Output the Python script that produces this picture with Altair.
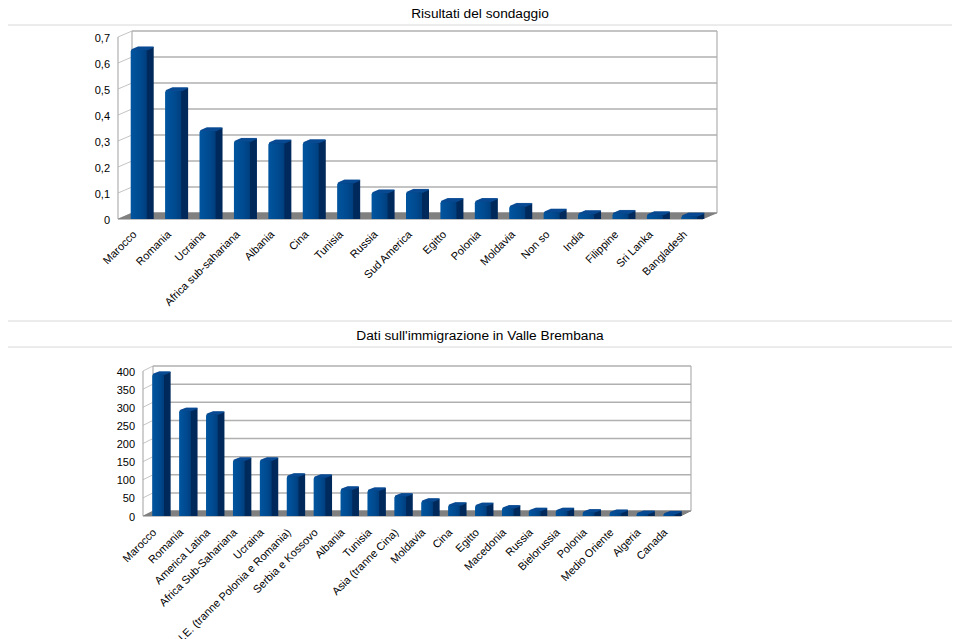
import altair as alt
import pandas as pd

# ---------- data ----------
survey_labels = ["Marocco", "Romania", "Ucraina", "Africa sub-sahariana", "Albania", "Cina", "Tunisia",
                 "Russia", "Sud America", "Egitto", "Polonia", "Moldavia", "Non so", "India",
                 "Filippine", "Sri Lanka", "Bangladesh"]
survey_values = [0.645, 0.488, 0.334, 0.293, 0.287, 0.288, 0.133, 0.095, 0.097, 0.062, 0.062,
                 0.043, 0.021, 0.015, 0.016, 0.011, 0.006]
survey_ticks = [0, 0.1, 0.2, 0.3, 0.4, 0.5, 0.6, 0.7]
survey_tick_labels = ["0", "0,1", "0,2", "0,3", "0,4", "0,5", "0,6", "0,7"]

immig_labels = ["Marocco", "Romania", "America Latina", "Africa Sub-Sahariana", "Ucraina",
                "U.E. (tranne Polonia e Romania)", "Serbia e Kossovo", "Albania", "Tunisia",
                "Asia (tranne Cina)", "Moldavia", "Cina", "Egitto", "Macedonia", "Russia",
                "Bielorussia", "Polonia", "Medio Oriente", "Algeria", "Canada"]
immig_values = [387, 287, 277, 150, 150, 106, 103, 70, 67, 51, 37, 26, 25, 18, 11, 11, 7, 6, 3, 2]
immig_ticks = [0, 50, 100, 150, 200, 250, 300, 350, 400]
immig_tick_labels = ["0", "50", "100", "150", "200", "250", "300", "350", "400"]

FONT = "Liberation Sans"
GRID = "#b0b0b0"
FLOOR = "#808080"
SIDE = "#002a5c"
TOP = "#0a4c94"
FRONT = alt.LinearGradient(gradient="linear", x1=0, x2=1, y1=0, y2=0,
                           stops=[alt.GradientStop(color="#00559f", offset=0),
                                  alt.GradientStop(color="#004a90", offset=0.6),
                                  alt.GradientStop(color="#003f7e", offset=1)])
M = 8  # page margin
W, H = 944, 631


def panel(labels, values, ticks, tick_labels, x0, x1, y0, ytop, dx, dy, bw, bdx, bdy, axfs, lx, ly):
    """x0,x1,y0,ytop: front plane in page pixels; dx,dy: wall depth; bw,bdx,bdy: bar size."""
    xl, xr, yb, yt = x0 - M, x1 - M, y0 - M, ytop - M
    order = labels
    xs = alt.Scale(domain=order, range=[xl, xr], paddingInner=0, paddingOuter=0)
    ys = alt.Scale(domain=[0, ticks[-1]], range=[yb, yt], nice=False, zero=True)
    X = alt.X("c:N", scale=xs, sort=order, axis=None)
    Y = alt.Y("v:Q", scale=ys, axis=None, stack=None)
    bars = pd.DataFrame({"c": labels, "v": values})
    grid = pd.DataFrame({"v": ticks, "s": tick_labels})
    base = pd.DataFrame({"v": [0]})
    layers = []

    # back-wall gridlines and left-wall slants
    layers.append(alt.Chart(grid).mark_rule(color=GRID, strokeWidth=1.5, yOffset=-dy).encode(
        y=Y, x=alt.value(xl + dx), x2=alt.value(xr + dx)))
    layers.append(alt.Chart(grid).mark_rule(color="#c4c4c4", strokeWidth=1, y2Offset=-dy).encode(
        y=Y, y2=alt.Y2("v:Q"), x=alt.value(xl), x2=alt.value(xl + dx)))
    # vertical wall edges
    top = pd.DataFrame({"v": [0], "t": [ticks[-1]]})
    for ox, oy in ((0, 0), (dx, -dy)):
        layers.append(alt.Chart(top).mark_rule(color=GRID, strokeWidth=1.2, yOffset=oy, y2Offset=oy).encode(
            y=Y, y2=alt.Y2("t:Q"), x=alt.value(xl + ox)))
    layers.append(alt.Chart(top).mark_rule(color=GRID, strokeWidth=1.2, yOffset=-dy, y2Offset=-dy).encode(
        y=Y, y2=alt.Y2("t:Q"), x=alt.value(xr + dx)))

    # floor, as a stack of thin rules
    steps = int(dy * 2)
    for i in range(steps + 1):
        f = i / steps
        layers.append(alt.Chart(base).mark_rule(color=FLOOR, strokeWidth=1, yOffset=-f * dy).encode(
            y=Y, x=alt.value(xl + f * dx), x2=alt.value(xr + f * dx)))

    # bar side: extruded copies of the bar
    ox0 = dx / 2 - bdx / 2
    steps = int(bdx * 1.5)
    for i in range(steps, 0, -1):
        f = i / steps
        ox, oy = ox0 + f * bdx, -1.2 - f * bdy
        layers.append(alt.Chart(bars).mark_bar(
            size=bw, color=SIDE, xOffset=ox, yOffset=oy, y2Offset=oy).encode(x=X, y=Y))
    # bar top face
    for i in range(steps, 0, -1):
        f = i / steps
        ox, oy = ox0 + f * bdx, -1.2 - f * bdy
        layers.append(alt.Chart(bars).mark_tick(
            orient="horizontal", size=bw, thickness=1.4, color=TOP, xOffset=ox, yOffset=oy).encode(x=X, y=Y))
    # bar front
    layers.append(alt.Chart(bars).mark_bar(
        size=bw, color=FRONT, xOffset=ox0, yOffset=-1.2, y2Offset=-1.2,
        cornerRadiusTopLeft=1.5, cornerRadiusTopRight=1.5).encode(x=X, y=Y))

    # tick labels
    layers.append(alt.Chart(bars).mark_text(
        font=FONT, fontSize=11, color="#000000", angle=315, align="right", baseline="middle",
        xOffset=lx, limit=400).encode(x=X, y=alt.value(ly - M), text="c:N"))
    layers.append(alt.Chart(grid).mark_text(
        font=FONT, fontSize=axfs, color="#000000", align="right", baseline="middle", yOffset=1.5).encode(
        x=alt.value(xl - 8), y=Y, text="s:N"))
    return alt.layer(*layers)


def title_box(text, y_line_top, y_line_bottom, y_text):
    d = pd.DataFrame({"t": [text]})
    parts = [alt.Chart(d).mark_rule(color="#d8d8d8", strokeWidth=1).encode(
        x=alt.value(0), x2=alt.value(W), y=alt.value(y_line_bottom - M))]
    if y_line_top >= M:
        parts.append(alt.Chart(d).mark_rule(color="#d8d8d8", strokeWidth=1).encode(
            x=alt.value(0), x2=alt.value(W), y=alt.value(y_line_top - M)))
    parts.append(alt.Chart(d).mark_text(font=FONT, fontSize=13.7, color="#000000").encode(
        text="t:N", x=alt.value(480 - M), y=alt.value(y_text - M)))
    return alt.layer(*parts)


p1 = panel(survey_labels, survey_values, survey_ticks, survey_tick_labels,
           118, 703, 219, 37, 14, 6, 16, 7, 3, 11, 0, 233)
p2 = panel(immig_labels, immig_values, immig_ticks, immig_tick_labels,
           143, 681, 516, 371, 10, 5, 11.7, 6.7, 2.5, 11, -1.5, 531)

chart = alt.layer(
    title_box("Risultati del sondaggio", 0, 25, 14),
    title_box("Dati sull'immigrazione in Valle Brembana", 321, 347, 336),
    p1, p2,
).resolve_scale(x="independent", y="independent").properties(
    width=W, height=H, padding=0, autosize=alt.AutoSizeParams(type="none"),
).configure_view(strokeWidth=0)

chart.save("out.html", embed_options={"renderer": "svg", "actions": False})
